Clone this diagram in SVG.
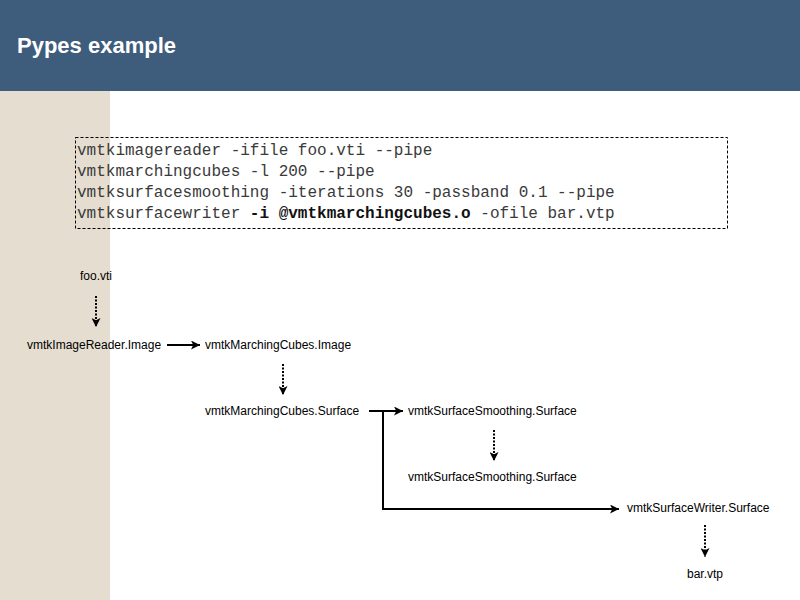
<svg xmlns="http://www.w3.org/2000/svg" width="800" height="600" viewBox="0 0 800 600">
<style>
.title{font-family:"Liberation Sans",Arial,sans-serif;font-size:22px;font-weight:bold;fill:#ffffff}
.code{font-family:"Liberation Mono","Courier New",monospace;font-size:16px;fill:#3a3a3a}
.code .b{font-weight:bold;fill:#111111}
.lbl{font-family:"Liberation Sans",Arial,sans-serif;font-size:12px;fill:#000000}
.solid{fill:none;stroke:#000;stroke-width:2}
.dot{fill:none;stroke:#000;stroke-width:2;stroke-dasharray:2 1.5}
</style>
<defs>
<marker id="ah" viewBox="0 0 10 10" refX="10" refY="5" markerWidth="4.5" markerHeight="4.5" orient="auto" markerUnits="strokeWidth">
<path d="M0,0 L10,5 L0,10 L2.5,5 Z" fill="#000"/>
</marker>
</defs>
<rect x="0" y="0" width="800" height="600" fill="#ffffff"/>
<rect x="0" y="0" width="800" height="91" fill="#3e5c7b"/>
<rect x="0" y="91" width="110" height="509" fill="#e5ded0"/>
<text class="title" x="17" y="53">Pypes example</text>
<g id="code">
<rect x="75.5" y="137.5" width="652" height="91" fill="none" stroke="#000" stroke-width="1" stroke-dasharray="3 2"/>
<text class="code" x="77" y="155">vmtkimagereader -ifile foo.vti --pipe</text>
<text class="code" x="77" y="176">vmtkmarchingcubes -l 200 --pipe</text>
<text class="code" x="77" y="197">vmtksurfacesmoothing -iterations 30 -passband 0.1 --pipe</text>
<text class="code" x="77" y="218" xml:space="preserve">vmtksurfacewriter <tspan class="b">-i @vmtkmarchingcubes.o</tspan> -ofile bar.vtp</text>
</g>
<g id="connectors">
<line class="dot" x1="96" y1="296" x2="96" y2="327" marker-end="url(#ah)"/>
<line class="solid" x1="167" y1="345" x2="200" y2="345" marker-end="url(#ah)"/>
<line class="dot" x1="283" y1="364" x2="283" y2="395" marker-end="url(#ah)"/>
<line class="solid" x1="369" y1="411" x2="403" y2="411" marker-end="url(#ah)"/>
<polyline class="solid" points="383,411 383,509 619,509" marker-end="url(#ah)"/>
<line class="dot" x1="494" y1="430" x2="494" y2="461" marker-end="url(#ah)"/>
<line class="dot" x1="705" y1="525" x2="705" y2="557" marker-end="url(#ah)"/>
</g>
<g id="n-foo"><text class="lbl" x="96" y="280" text-anchor="middle">foo.vti</text></g>
<g id="n-reader"><text class="lbl" x="27" y="349">vmtkImageReader.Image</text></g>
<g id="n-mc-image"><text class="lbl" x="205" y="349">vmtkMarchingCubes.Image</text></g>
<g id="n-mc-surface"><text class="lbl" x="205" y="415">vmtkMarchingCubes.Surface</text></g>
<g id="n-ss-in"><text class="lbl" x="408" y="415">vmtkSurfaceSmoothing.Surface</text></g>
<g id="n-ss-out"><text class="lbl" x="408" y="481">vmtkSurfaceSmoothing.Surface</text></g>
<g id="n-writer"><text class="lbl" x="627" y="512">vmtkSurfaceWriter.Surface</text></g>
<g id="n-bar"><text class="lbl" x="705" y="578" text-anchor="middle">bar.vtp</text></g>
</svg>
